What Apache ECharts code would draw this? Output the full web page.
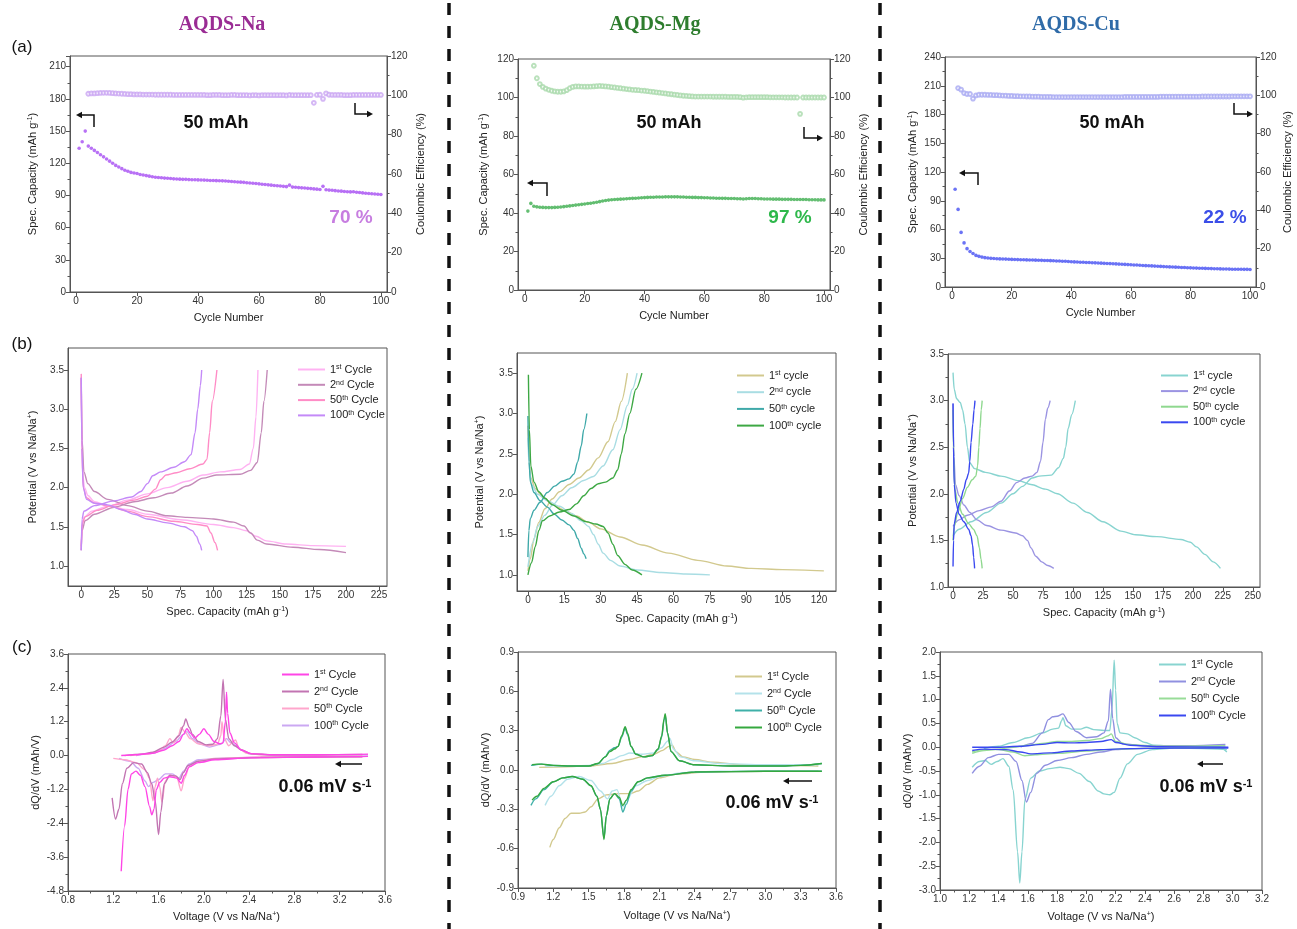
<!DOCTYPE html>
<html>
<head>
<meta charset="utf-8">
<script src="https://cdn.jsdelivr.net/npm/echarts@6/dist/echarts.min.js"></script>
<style>
html, body { margin: 0; padding: 0; background: #fff; }
#main { width: 1297px; height: 929px; }
</style>
</head>
<body>
<div id="main"></div>
<script>
// ---------- (a) cycling data ----------
const naCap = [134,140,150,136,134,132,130,128,126,124,
  122,120,118,116.5,115,113.5,112.5,111.5,111,110.5,
  109.5,109,108.5,108,107.5,107,106.8,106.5,106.2,106,
  105.8,105.5,105.3,105.2,105,105,104.8,104.7,104.6,104.5,
  104.4,104.3,104.2,104,103.9,103.8,103.7,103.6,103.5,103.2,
  103,102.8,102.6,102.4,102.2,101.9,101.6,101.4,101.1,100.8,
  100.5,100.2,99.9,99.6,99.3,99,98.8,98.5,98.2,99.6,
  97.8,97.6,97.3,97.1,96.9,96.6,96.4,96.1,95.9,95.6,
  98.5,95.3,95,94.8,94.5,94.2,94,93.7,93.5,93.3,
  93.4,93,92.7,92.4,92.1,91.8,91.6,91.3,91.1,90.9]
const naCEStart = 4
const naCE = [100.8,101.0,101.0,101.1,101.2,101.3,101.3,101.2,101.1,101.0,100.9,100.8,100.7,100.6,100.6,100.5,100.5,
  100.5,100.4,100.4,100.4,100.4,100.3,100.3,100.3,100.3,100.3,100.3,100.2,100.2,100.2,100.2,100.2,100.2,100.2,100.2,100.2,
  100.2,100.2,100.1,100.1,100.2,100.2,100.2,100.1,100.1,100.1,100.2,100.2,100.1,100.1,100.1,100.1,100.0,100.1,100.1,100.0,
  100.1,100.1,100.1,100.1,100.1,100.1,100.1,100.1,100.0,100.2,100.1,100.1,100.1,100.1,100.1,100.1,100.1,
  96.2,100.2,100.3,98.2,101.0,
  100.3,100.2,100.2,100.2,100.2,100.1,100.1,100.1,100.2,100.2,100.2,100.2,100.2,100.2,100.2,100.2,100.2,100.2]

const mgCap = [41,45,43.5,43.2,43,42.9,42.8,42.8,42.8,42.9,
  43,43.1,43.3,43.5,43.7,43.9,44.1,44.3,44.5,44.7,
  44.9,45.1,45.3,45.6,45.9,46.2,46.5,46.7,46.9,47,
  47.1,47.2,47.3,47.4,47.5,47.6,47.7,47.8,47.9,48,
  48.1,48.2,48.2,48.3,48.3,48.3,48.4,48.4,48.4,48.4,
  48.4,48.3,48.3,48.2,48.2,48.1,48.1,48,48,47.9,
  47.9,47.8,47.8,47.7,47.7,47.6,47.6,47.5,47.5,47.5,
  47.4,47.4,47.3,47.4,47.5,47.5,47.5,47.4,47.4,47.3,
  47.3,47.3,47.2,47.2,47.2,47.1,47.1,47.1,47.1,47,
  47,47,47,47,46.9,46.9,46.9,46.8,46.8,46.8]
const mgCEStart = 3
const mgCE = [116.5,110.0,107.0,105.5,104.6,104.0,103.5,103.2,103.0,103.0,103.2,103.8,104.8,105.5,105.8,105.8,105.7,105.6,
  105.6,105.7,105.8,105.9,106.0,105.9,105.8,105.6,105.4,105.2,105.0,104.8,104.6,104.4,104.2,104.0,103.9,103.8,103.6,103.5,
  103.3,103.1,102.9,102.7,102.5,102.3,102.1,101.9,101.7,101.5,101.3,101.1,100.9,100.8,100.7,100.6,100.5,100.5,100.5,100.5,
  100.5,100.5,100.4,100.4,100.4,100.4,100.4,100.3,100.3,100.3,100.3,100.2,99.9,100.1,100.2,100.2,100.2,100.2,100.2,100.2,
  100.2,100.1,100.1,100.1,100.1,100.1,100.0,100.0,100.0,100.0,100.0,91.5,100.0,100.0,100.0,100.0,100.0,100.0,100.0,100.0]

const cuCap = [102,81,57,46,40,37,35,33,32,31.2,
  30.6,30.2,29.9,29.7,29.5,29.3,29.2,29.1,29,28.8,
  28.7,28.6,28.5,28.4,28.3,28.2,28.1,28,27.9,27.8,
  27.7,27.6,27.5,27.4,27.2,27.1,26.9,26.8,26.6,26.4,
  26.2,26.1,25.9,25.8,25.6,25.5,25.3,25.2,25,24.9,
  24.7,24.6,24.4,24.3,24.1,23.9,23.8,23.6,23.4,23.2,
  23,22.9,22.7,22.5,22.3,22.2,22,21.8,21.7,21.5,
  21.3,21.2,21,20.9,20.7,20.6,20.4,20.3,20.1,20,
  19.9,19.7,19.6,19.5,19.4,19.3,19.2,19.1,19,18.9,
  18.8,18.8,18.7,18.6,18.6,18.5,18.5,18.4,18.4,18.3]
const cuCEStart = 2
const cuCE = [103.8,103.0,101.2,100.7,100.7,98.3,100.0,100.3,100.3,100.3,100.2,100.2,100.1,100.1,100.0,99.9,99.8,99.7,99.7,
  99.6,99.6,99.5,99.5,99.4,99.4,99.3,99.3,99.3,99.2,99.2,99.2,99.2,99.1,99.1,99.1,99.1,99.1,99.1,99.1,
  99.1,99.1,99.1,99.1,99.1,99.1,99.1,99.1,99.1,99.1,99.1,99.1,99.1,99.1,99.1,99.1,99.1,99.2,99.2,99.2,
  99.2,99.2,99.2,99.2,99.2,99.2,99.2,99.2,99.2,99.3,99.3,99.3,99.3,99.3,99.3,99.3,99.3,99.3,99.3,99.3,
  99.3,99.3,99.3,99.4,99.4,99.4,99.4,99.4,99.4,99.4,99.4,99.4,99.4,99.5,99.5,99.5,99.5,99.5,99.5,99.5]

// ---------- (b) charge / discharge curves [capacity, V] ----------
const naB1Dis = [[0,3.40],[0.5,2.6],[1.2,2.15],[2.5,2.0],[5,1.9],[10,1.82],[20,1.77],[35,1.72],[50,1.66],[75,1.59],[100,1.53],[115,1.49],[125,1.45],[132,1.38],[140,1.32],[155,1.28],[175,1.26],[200,1.25]]
const naB1Chg = [[0,1.2],[0.5,1.5],[2,1.62],[8,1.7],[20,1.76],[35,1.84],[50,1.92],[65,2.0],[80,2.08],[92,2.16],[105,2.2],[120,2.23],[127,2.3],[130,2.5],[132,2.9],[133.5,3.5]]
const naB2Dis = [[0,3.4],[0.7,2.6],[2,2.2],[5,2.05],[10,1.95],[20,1.85],[35,1.77],[50,1.7],[65,1.64],[80,1.62],[100,1.6],[115,1.56],[123,1.51],[128,1.42],[133,1.33],[140,1.28],[160,1.24],[180,1.21],[200,1.17]]
const naB2Chg = [[0,1.2],[0.6,1.45],[3,1.58],[10,1.66],[25,1.75],[40,1.82],[55,1.87],[68,1.93],[80,2.02],[92,2.12],[102,2.16],[120,2.17],[128,2.22],[133,2.32],[136,2.7],[138,3.1],[140.5,3.5]]
const naB50Dis = [[0,3.45],[0.5,2.5],[1.5,2.0],[4,1.87],[10,1.8],[22,1.76],[35,1.7],[50,1.63],[70,1.57],[88,1.53],[95,1.51],[98,1.42],[101,1.3],[103,1.2]]
const naB50Chg = [[0,1.25],[1,1.55],[3,1.63],[12,1.71],[25,1.78],[40,1.84],[50,1.89],[56,1.98],[60,2.1],[64,2.16],[72,2.19],[82,2.24],[92,2.3],[95,2.36],[97,2.7],[99,3.1],[102.5,3.5]]
const naB100Dis = [[0,3.4],[0.5,2.5],[1.5,2.0],[4,1.85],[10,1.8],[20,1.78],[30,1.72],[40,1.66],[50,1.6],[65,1.55],[78,1.5],[84,1.45],[87,1.38],[89.5,1.28],[91,1.2]]
const naB100Chg = [[0,1.2],[0.6,1.6],[2,1.7],[10,1.77],[25,1.83],[38,1.88],[45,1.95],[50,2.05],[54,2.15],[60,2.2],[70,2.26],[78,2.33],[83,2.42],[86,2.7],[88,3.0],[90,3.3],[91,3.5]]

const mgB1Dis = [[0,2.85],[0.5,2.4],[1.2,2.2],[3,2.07],[6,1.97],[10,1.88],[15,1.8],[20,1.73],[25,1.65],[30,1.57],[38,1.47],[47,1.37],[58,1.27],[70,1.18],[82,1.11],[92,1.08],[105,1.065],[122,1.05]]
const mgB1Chg = [[0,1.05],[1,1.2],[2.5,1.45],[4.5,1.65],[7,1.82],[10,1.94],[13,2.03],[17,2.12],[21,2.2],[25,2.3],[29,2.45],[33,2.65],[36,2.9],[38.5,3.15],[41,3.5]]
const mgB2Dis = [[0,2.7],[0.6,2.3],[1.5,2.12],[4,2.0],[8,1.92],[13,1.85],[18,1.76],[22,1.67],[25,1.6],[27,1.5],[29,1.38],[31,1.27],[34,1.18],[38,1.11],[45,1.06],[55,1.03],[65,1.01],[75,1.0]]
const mgB2Chg = [[0,1.1],[2,1.4],[4,1.6],[7,1.74],[10,1.86],[14,1.98],[18,2.08],[23,2.17],[27,2.22],[31,2.35],[35,2.55],[38,2.8],[41,3.1],[43,3.3],[45,3.5]]
const mgB50Dis = [[0,2.97],[0.5,2.4],[1,2.15],[2.5,2.02],[5,1.92],[8,1.84],[11,1.75],[14,1.68],[17,1.62],[19,1.55],[20.5,1.45],[22,1.33],[23,1.26],[24,1.2]]
const mgB50Chg = [[0,1.22],[0.4,1.55],[1,1.7],[2.5,1.8],[5,1.9],[8,2.02],[11,2.1],[14,2.16],[17,2.19],[19,2.25],[20.5,2.4],[22,2.6],[23,2.8],[24.3,3.0]]
const mgB100Dis = [[0.2,3.48],[0.6,2.8],[1.2,2.35],[2.5,2.15],[4.5,2.03],[7,1.95],[10,1.87],[14,1.8],[19,1.73],[24,1.66],[28,1.63],[31,1.6],[33,1.52],[35,1.38],[37,1.24],[40,1.13],[43,1.06],[47,1.0]]
const mgB100Chg = [[0,1.0],[1.5,1.15],[3,1.35],[4.5,1.55],[6,1.67],[9,1.73],[13,1.78],[17,1.81],[20,1.88],[23,1.98],[26,2.07],[29,2.13],[32,2.15],[35,2.2],[37,2.3],[38.5,2.5],[40,2.75],[42,3.0],[44.5,3.3],[47,3.5]]

const cuB1Dis = [[0,3.3],[1,3.12],[3,3.02],[6,2.98],[8,2.9],[10,2.75],[12,2.5],[14,2.33],[18,2.27],[27,2.23],[40,2.19],[55,2.14],[65,2.1],[77,2.05],[87,2.0],[100,1.9],[112,1.8],[125,1.7],[140,1.6],[152,1.56],[170,1.54],[190,1.51],[198,1.48],[203,1.43],[210,1.35],[217,1.27],[223,1.2]]
const cuB1Chg = [[0,1.55],[5,1.62],[15,1.7],[28,1.8],[40,1.9],[50,2.0],[58,2.08],[66,2.17],[72,2.19],[82,2.2],[88,2.28],[92,2.38],[94,2.5],[96,2.7],[99,2.85],[102,3.0]]
const cuB2Dis = [[0,2.97],[0.7,2.4],[2,2.1],[5,1.98],[9,1.88],[14,1.8],[20,1.72],[28,1.66],[40,1.61],[52,1.58],[58,1.55],[62,1.5],[65,1.42],[69,1.33],[74,1.27],[79,1.23],[84,1.2]]
const cuB2Chg = [[0,1.65],[5,1.72],[12,1.77],[22,1.82],[32,1.86],[40,1.92],[47,2.03],[53,2.12],[60,2.17],[66,2.19],[70,2.23],[73,2.35],[75,2.55],[77,2.8],[79,2.92],[81,3.0]]
const cuB50Dis = [[0,2.9],[0.5,2.4],[1.5,2.05],[4,1.9],[8,1.78],[13,1.68],[17,1.62],[20,1.55],[22,1.42],[23.3,1.3],[24.3,1.2]]
const cuB50Chg = [[0,1.5],[1,1.65],[4,1.8],[8,1.95],[12,2.07],[16,2.15],[19,2.19],[20.5,2.3],[21.5,2.5],[22.5,2.7],[23.5,2.9],[24.3,3.0]]
const cuB100Dis = [[0,2.97],[0.4,2.5],[1,2.1],[2.5,1.9],[5,1.78],[9,1.7],[13,1.62],[15,1.55],[16.3,1.45],[17.2,1.32],[18,1.2]]
const cuB100Chg = [[0,1.22],[0.4,1.5],[1,1.68],[3,1.8],[6,1.92],[9,2.05],[11,2.15],[13,2.22],[14,2.35],[15,2.55],[16.5,2.75],[17.5,2.9],[18.3,3.0]]

// ---------- (c) dQ/dV curves [V, dQ/dV] ----------
const naC1Up = [[1.27,0.0],[1.4,0.03],[1.55,0.08],[1.65,0.2],[1.72,0.35],[1.78,0.5],[1.82,0.75],[1.85,0.95],[1.88,0.8],[1.92,0.62],[1.96,0.75],[2.0,0.95],[2.04,0.75],[2.09,0.5],[2.14,0.42],[2.17,0.45],[2.19,1.2],[2.2,2.25],[2.21,1.5],[2.23,0.8],[2.27,0.45],[2.33,0.2],[2.42,0.07],[2.6,0.03],[3.0,0.03],[3.45,0.05]]
const naC1Dn = [[1.27,-4.1],[1.3,-2.5],[1.33,-1.2],[1.36,-0.65],[1.4,-0.55],[1.44,-0.7],[1.48,-1.1],[1.52,-1.8],[1.54,-2.1],[1.56,-1.9],[1.58,-1.2],[1.61,-0.95],[1.65,-0.8],[1.7,-0.75],[1.76,-0.8],[1.8,-0.98],[1.83,-0.7],[1.87,-0.4],[1.95,-0.25],[2.1,-0.15],[2.4,-0.08],[3.0,-0.05],[3.45,-0.03]]
const naC2Up = [[1.3,0.0],[1.45,0.05],[1.55,0.12],[1.65,0.3],[1.72,0.48],[1.78,0.7],[1.82,1.05],[1.84,1.3],[1.87,1.0],[1.9,0.75],[1.95,0.5],[2.02,0.38],[2.08,0.4],[2.12,0.6],[2.15,1.4],[2.17,2.7],[2.19,1.3],[2.22,0.6],[2.27,0.35],[2.33,0.2],[2.42,0.06],[2.6,0.03],[3.0,0.03],[3.4,0.04]]
const naC2Dn = [[1.19,-1.5],[1.22,-2.25],[1.25,-1.9],[1.28,-1.0],[1.32,-0.45],[1.38,-0.25],[1.45,-0.3],[1.5,-0.6],[1.54,-1.0],[1.57,-1.6],[1.6,-2.8],[1.62,-2.0],[1.65,-1.0],[1.7,-0.7],[1.75,-0.72],[1.79,-0.85],[1.82,-0.6],[1.86,-0.35],[1.95,-0.2],[2.1,-0.12],[2.5,-0.07],[3.0,-0.05],[3.4,-0.04]]
const naC50Up = [[1.35,0.0],[1.5,0.05],[1.6,0.15],[1.66,0.35],[1.7,0.6],[1.73,0.45],[1.77,0.65],[1.8,1.0],[1.83,0.85],[1.88,0.6],[1.95,0.42],[2.05,0.35],[2.12,0.4],[2.15,0.7],[2.16,1.2],[2.18,0.6],[2.22,0.35],[2.26,0.5],[2.28,0.55],[2.31,0.25],[2.38,0.08],[2.5,0.03],[3.0,0.02],[3.4,0.03]]
const naC50Dn = [[1.2,-0.1],[1.3,-0.15],[1.4,-0.25],[1.48,-0.5],[1.52,-0.8],[1.55,-1.6],[1.57,-1.1],[1.59,-0.8],[1.61,-1.1],[1.63,-1.65],[1.66,-0.9],[1.7,-0.7],[1.76,-0.75],[1.8,-1.25],[1.83,-0.8],[1.87,-0.4],[1.95,-0.2],[2.1,-0.1],[2.5,-0.05],[3.4,-0.04]]
const naC100Up = [[1.4,0.0],[1.55,0.08],[1.65,0.25],[1.75,0.5],[1.82,0.75],[1.85,0.85],[1.9,0.6],[1.97,0.4],[2.05,0.3],[2.15,0.4],[2.2,0.6],[2.24,0.45],[2.29,0.35],[2.33,0.2],[2.4,0.06],[2.6,0.02],[3.0,0.02],[3.45,0.03]]
const naC100Dn = [[1.25,-0.1],[1.35,-0.2],[1.42,-0.45],[1.48,-0.9],[1.51,-1.1],[1.55,-0.95],[1.6,-0.85],[1.66,-0.65],[1.72,-0.65],[1.78,-0.8],[1.82,-0.55],[1.87,-0.3],[1.95,-0.15],[2.2,-0.08],[2.6,-0.05],[3.45,-0.03]]

const mgC1Up = [[1.08,0.02],[1.3,0.025],[1.5,0.03],[1.7,0.05],[1.85,0.08],[1.95,0.1],[2.05,0.12],[2.13,0.15],[2.18,0.18],[2.21,0.19],[2.24,0.14],[2.3,0.1],[2.4,0.08],[2.55,0.06],[2.8,0.04],[3.1,0.035],[3.45,0.03]]
const mgC1Dn = [[1.17,-0.59],[1.2,-0.53],[1.25,-0.44],[1.3,-0.37],[1.35,-0.33],[1.42,-0.33],[1.47,-0.32],[1.52,-0.28],[1.58,-0.22],[1.65,-0.19],[1.75,-0.18],[1.85,-0.18],[1.92,-0.16],[2.0,-0.11],[2.1,-0.06],[2.25,-0.03],[2.5,-0.015],[3.0,-0.01],[3.45,-0.01]]
const mgC2Up = [[1.13,0.03],[1.3,0.03],[1.5,0.035],[1.62,0.05],[1.7,0.08],[1.78,0.11],[1.85,0.13],[1.95,0.12],[2.05,0.13],[2.12,0.17],[2.17,0.22],[2.19,0.24],[2.22,0.16],[2.28,0.1],[2.4,0.07],[2.6,0.05],[3.0,0.04],[3.45,0.04]]
const mgC2Dn = [[1.13,-0.27],[1.18,-0.2],[1.25,-0.12],[1.32,-0.07],[1.42,-0.05],[1.52,-0.08],[1.6,-0.16],[1.66,-0.22],[1.7,-0.16],[1.74,-0.15],[1.79,-0.28],[1.83,-0.22],[1.9,-0.12],[2.0,-0.08],[2.1,-0.05],[2.3,-0.02],[2.6,-0.01],[3.45,-0.01]]
const mgC50Up = [[1.01,0.035],[1.05,0.04],[1.1,0.045],[1.2,0.035],[1.35,0.03],[1.5,0.03],[1.58,0.05],[1.64,0.1],[1.68,0.15],[1.72,0.17],[1.75,0.18],[1.78,0.25],[1.81,0.32],[1.83,0.27],[1.86,0.18],[1.9,0.12],[1.97,0.1],[2.04,0.11],[2.09,0.16],[2.12,0.25],[2.14,0.38],[2.15,0.42],[2.17,0.28],[2.2,0.14],[2.27,0.07],[2.4,0.04],[2.7,0.03],[3.1,0.03],[3.3,0.035],[3.48,0.05]]
const mgC50Dn = [[1.01,-0.27],[1.05,-0.22],[1.12,-0.15],[1.2,-0.09],[1.28,-0.06],[1.36,-0.05],[1.45,-0.07],[1.52,-0.12],[1.57,-0.2],[1.6,-0.3],[1.63,-0.52],[1.65,-0.35],[1.68,-0.22],[1.72,-0.18],[1.76,-0.22],[1.79,-0.32],[1.82,-0.26],[1.86,-0.16],[1.92,-0.09],[2.0,-0.06],[2.15,-0.04],[2.4,-0.015],[3.0,-0.01],[3.48,-0.01]]
const mgC100Up = [[1.02,0.04],[1.06,0.045],[1.1,0.045],[1.2,0.035],[1.35,0.03],[1.5,0.03],[1.58,0.05],[1.64,0.1],[1.68,0.14],[1.72,0.16],[1.75,0.18],[1.78,0.26],[1.81,0.33],[1.83,0.28],[1.86,0.18],[1.9,0.12],[1.97,0.1],[2.04,0.11],[2.09,0.16],[2.12,0.26],[2.14,0.39],[2.15,0.43],[2.17,0.28],[2.2,0.14],[2.27,0.07],[2.4,0.04],[2.7,0.03],[3.1,0.03],[3.3,0.035],[3.48,0.05]]
const mgC100Dn = [[1.02,-0.23],[1.06,-0.2],[1.12,-0.14],[1.2,-0.09],[1.28,-0.06],[1.36,-0.05],[1.45,-0.07],[1.52,-0.12],[1.57,-0.2],[1.6,-0.3],[1.63,-0.53],[1.65,-0.35],[1.68,-0.22],[1.72,-0.18],[1.76,-0.21],[1.79,-0.27],[1.82,-0.23],[1.86,-0.15],[1.92,-0.09],[2.0,-0.06],[2.15,-0.04],[2.4,-0.015],[3.0,-0.01],[3.48,-0.01]]

const cuC1Up = [[1.3,-0.03],[1.4,0.02],[1.5,0.1],[1.6,0.2],[1.7,0.3],[1.77,0.38],[1.81,0.4],[1.83,0.55],[1.84,0.62],[1.86,0.45],[1.9,0.38],[1.96,0.38],[2.0,0.42],[2.05,0.37],[2.12,0.35],[2.16,0.35],[2.175,0.8],[2.19,1.83],[2.2,1.2],[2.21,0.5],[2.23,0.3],[2.28,0.28],[2.33,0.2],[2.4,0.1],[2.46,0.04],[2.6,0.02],[2.9,0.02],[2.96,-0.1]]
const cuC1Dn = [[1.22,-0.42],[1.27,-0.3],[1.31,-0.28],[1.35,-0.36],[1.39,-0.3],[1.43,-0.24],[1.47,-0.4],[1.5,-0.9],[1.53,-2.2],[1.545,-2.85],[1.56,-2.2],[1.58,-1.1],[1.62,-0.65],[1.68,-0.5],[1.75,-0.45],[1.82,-0.42],[1.88,-0.45],[1.95,-0.55],[2.02,-0.72],[2.08,-0.92],[2.12,-0.98],[2.16,-1.0],[2.19,-0.95],[2.23,-0.65],[2.28,-0.35],[2.35,-0.15],[2.45,-0.05],[2.6,-0.02],[2.96,-0.05]]
const cuC2Up = [[1.55,0.0],[1.63,0.08],[1.7,0.3],[1.74,0.58],[1.77,0.64],[1.8,0.65],[1.84,0.7],[1.88,0.52],[1.93,0.33],[2.0,0.2],[2.07,0.22],[2.12,0.3],[2.15,0.55],[2.165,1.22],[2.18,0.6],[2.2,0.2],[2.25,0.07],[2.4,0.03],[2.7,0.03],[2.95,0.06]]
const cuC2Dn = [[1.22,-0.55],[1.27,-0.4],[1.33,-0.22],[1.4,-0.15],[1.47,-0.15],[1.52,-0.3],[1.56,-0.7],[1.59,-1.15],[1.62,-0.95],[1.66,-0.55],[1.72,-0.38],[1.8,-0.28],[1.9,-0.22],[2.0,-0.15],[2.1,-0.1],[2.2,-0.05],[2.4,-0.02],[2.95,0.0]]
const cuC50Up = [[1.22,-0.13],[1.3,-0.07],[1.4,-0.04],[1.5,0.0],[1.6,0.04],[1.7,0.08],[1.8,0.12],[1.9,0.12],[2.0,0.14],[2.1,0.18],[2.15,0.24],[2.17,0.28],[2.2,0.12],[2.3,0.05],[2.5,0.02],[2.95,0.03]]
const cuC50Dn = [[1.22,-0.1],[1.3,-0.05],[1.4,-0.05],[1.5,-0.1],[1.58,-0.18],[1.65,-0.16],[1.8,-0.13],[2.0,-0.08],[2.2,-0.04],[2.5,-0.02],[2.95,-0.01]]
const cuC100Up = [[1.22,0.0],[1.4,0.0],[1.55,0.02],[1.7,0.06],[1.8,0.1],[1.9,0.09],[2.0,0.1],[2.1,0.12],[2.17,0.16],[2.2,0.1],[2.3,0.04],[2.5,0.01],[2.97,0.0]]
const cuC100Dn = [[1.22,-0.07],[1.3,-0.04],[1.45,-0.05],[1.55,-0.1],[1.62,-0.14],[1.75,-0.12],[1.9,-0.08],[2.1,-0.05],[2.3,-0.03],[2.6,-0.02],[2.97,-0.02]]

// ---------- tick labels ----------
const cycleTicks = [0, 20, 40, 60, 80, 100]
const bNaXTicks = [0, 25, 50, 75, 100, 125, 150, 175, 200, 225]
const bMgXTicks = [0, 15, 30, 45, 60, 75, 90, 105, 120]
const bCuXTicks = [0, 25, 50, 75, 100, 125, 150, 175, 200, 225, 250]
const potTicks = [1.0, 1.5, 2.0, 2.5, 3.0, 3.5]

const SANS = '"Liberation Sans", Arial, sans-serif'
const AX = '#555'
const SUP = {fontSize: 7, verticalAlign: 'top', padding: [0, 0, 4, 0], fontFamily: SANS, color: '#222'}

const grids = [], xAxes = [], yAxes = [], series = [], legends = [], graphics = []

const addGrid = function (left, top, width, height) {
  grids.push({left, top, width, height, show: true, borderColor: AX, borderWidth: 1, containLabel: false})
  return grids.length - 1
}

const makeAxis = function (gi, s) {
  const ax = {
    type: 'value', gridIndex: gi, min: s.min, max: s.max, position: s.pos,
    axisLine: {show: true, onZero: false, lineStyle: {color: AX, width: 1}},
    axisTick: {show: true, inside: false, length: 4, lineStyle: {color: AX}},
    minorTick: {show: !!s.interval, splitNumber: 2, length: 2.5, lineStyle: {color: AX}},
    axisLabel: {fontSize: 10, color: '#333', margin: 4, fontFamily: SANS, showMaxLabel: s.hideMax ? false : null},
    splitLine: {show: false},
    name: s.name, nameLocation: 'middle', nameGap: s.gap,
    nameTextStyle: {fontSize: 11, color: '#222', fontFamily: SANS, rich: {sup: SUP}},
  }
  if (s.fmt) ax.axisLabel.formatter = s.fmt
  if (s.interval) ax.interval = s.interval
  if (s.ticks) {
    ax.axisTick.customValues = s.ticks
    ax.axisLabel.customValues = s.ticks
  }
  return ax
}
const addX = function (gi, s) { xAxes.push(makeAxis(gi, Object.assign({pos: 'bottom'}, s))); return xAxes.length - 1 }
const addY = function (gi, s) { yAxes.push(makeAxis(gi, Object.assign({pos: 'left'}, s))); return yAxes.length - 1 }
const f1 = v => v.toFixed(1)

const LEG = {}
const line = function (name, data, color, xi, yi) {
  series.push({
    type: 'line', name, data, xAxisIndex: xi, yAxisIndex: yi, symbol: 'none',
    smooth: 0.3, smoothMonotone: 'x', clip: false,
    lineStyle: {color, width: 1.4}, itemStyle: {color}, z: 2,
  })
}
const addLegend = function (names, left, top, gap) {
  legends.push({
    orient: 'vertical', left, top, data: names, padding: 0, itemGap: gap,
    icon: 'rect', itemWidth: 27, itemHeight: 2, selectedMode: false,
    formatter: n => LEG[n],
    textStyle: {fontSize: 11, color: '#222', fontFamily: SANS, rich: {sup: SUP}},
  })
}
const cyclesOf = (arr, start) => arr.map((v, i) => [i + start, v])

const text = function (x, y, str, o) {
  graphics.push({
    type: 'text', x, y, z: 20,
    style: Object.assign({text: str, align: 'center', verticalAlign: 'middle', fontFamily: SANS, fill: '#111'}, o),
  })
}
const arrow = function (points) {
  const n = points.length
  const [x1, y1] = points[n - 2], [x2, y2] = points[n - 1]
  const L = Math.hypot(x2 - x1, y2 - y1), ux = (x2 - x1) / L, uy = (y2 - y1) / L
  const bx = x2 - ux * 6, by = y2 - uy * 6
  graphics.push({type: 'polyline', z: 20, shape: {points: points.slice(0, n - 1).concat([[bx, by]])}, style: {stroke: '#111', lineWidth: 1.5, fill: null}})
  graphics.push({type: 'polygon', z: 20, shape: {points: [[x2, y2], [bx - uy * 3.2, by + ux * 3.2], [bx + uy * 3.2, by - ux * 3.2]]}, style: {fill: '#111'}})
}

// ---------- row (a) ----------
const capName = 'Spec. Capacity (mAh g{sup|-1})'
const ceName = 'Coulombic Efficiency (%)'
const aPanels = [
  {box: [70, 56, 317, 236], x: [-2, 102], cap: naCap, ce: naCE, ceStart: naCEStart, ymax: 220, yint: 30, hideMax: true, capColor: '#A64DF2', ceColor: '#CBA6F2', gap: 32, rgap: 28},
  {box: [518, 59, 312, 231], x: [-2.3, 102], cap: mgCap, ce: mgCE, ceStart: mgCEStart, ymax: 120, yint: 20, capColor: '#3DAE4F', ceColor: '#A9D9AB', gap: 29, rgap: 28},
  {box: [945, 57, 311, 230], x: [-2.4, 102], cap: cuCap, ce: cuCE, ceStart: cuCEStart, ymax: 240, yint: 30, capColor: '#4650F2', ceColor: '#A9AAF2', gap: 27, rgap: 26},
]
aPanels.forEach(p => {
  const gi = addGrid(...p.box)
  const xi = addX(gi, {min: p.x[0], max: p.x[1], ticks: cycleTicks, name: 'Cycle Number', gap: 20})
  const yl = addY(gi, {min: 0, max: p.ymax, interval: p.yint, hideMax: p.hideMax, name: capName, gap: p.gap})
  const yr = addY(gi, {min: 0, max: 120, interval: 20, pos: 'right', name: ceName, gap: p.rgap})
  series.push({type: 'scatter', data: cyclesOf(p.cap, 1), xAxisIndex: xi, yAxisIndex: yl, symbol: 'circle', symbolSize: 3.6, itemStyle: {color: p.capColor}, z: 3})
  series.push({type: 'scatter', data: cyclesOf(p.ce, p.ceStart), xAxisIndex: xi, yAxisIndex: yr, symbol: 'emptyCircle', symbolSize: 3.8, itemStyle: {color: p.ceColor, borderWidth: 0.8}, z: 3})
})

// ---------- row (b) ----------
const potName = 'Potential (V vs Na/Na{sup|+})'
const specName = 'Spec. Capacity (mAh g{sup|-1})'
let gi = addGrid(68, 348, 319, 238)
let xi = addX(gi, {min: -10, max: 231, ticks: bNaXTicks, name: specName, gap: 20})
let yi = addY(gi, {min: 0.745, max: 3.78, ticks: potTicks, fmt: f1, name: potName, gap: 30})
Object.assign(LEG, {bNa1: '1{sup|st} Cycle', bNa2: '2{sup|nd} Cycle', bNa50: '50{sup|th} Cycle', bNa100: '100{sup|th} Cycle'})
line('bNa1', naB1Dis, '#FFB2F2', xi, yi); line('bNa1', naB1Chg, '#FFB2F2', xi, yi)
line('bNa2', naB2Dis, '#C48AB8', xi, yi); line('bNa2', naB2Chg, '#C48AB8', xi, yi)
line('bNa50', naB50Dis, '#FF8CC6', xi, yi); line('bNa50', naB50Chg, '#FF8CC6', xi, yi)
line('bNa100', naB100Dis, '#C48AF8', xi, yi); line('bNa100', naB100Chg, '#C48AF8', xi, yi)
addLegend(['bNa1', 'bNa2', 'bNa50', 'bNa100'], 298, 364, 4.3)

gi = addGrid(517, 353, 319, 238)
xi = addX(gi, {min: -4.5, max: 127, ticks: bMgXTicks, name: specName, gap: 22})
yi = addY(gi, {min: 0.8, max: 3.75, ticks: potTicks, fmt: f1, name: potName, gap: 32})
Object.assign(LEG, {bMg1: '1{sup|st} cycle', bMg2: '2{sup|nd} cycle', bMg50: '50{sup|th} cycle', bMg100: '100{sup|th} cycle'})
line('bMg1', mgB1Dis, '#D2C98E', xi, yi); line('bMg1', mgB1Chg, '#D2C98E', xi, yi)
line('bMg2', mgB2Dis, '#A9DDE3', xi, yi); line('bMg2', mgB2Chg, '#A9DDE3', xi, yi)
line('bMg50', mgB50Dis, '#3FA9A9', xi, yi); line('bMg50', mgB50Chg, '#3FA9A9', xi, yi)
line('bMg100', mgB100Dis, '#3DA844', xi, yi); line('bMg100', mgB100Chg, '#3DA844', xi, yi)
addLegend(['bMg1', 'bMg2', 'bMg50', 'bMg100'], 737, 370, 5.7)

gi = addGrid(948, 354, 312, 233)
xi = addX(gi, {min: -4.2, max: 256, ticks: bCuXTicks, name: specName, gap: 20})
yi = addY(gi, {min: 1.0, max: 3.5, interval: 0.5, fmt: f1, name: potName, gap: 30})
Object.assign(LEG, {bCu1: '1{sup|st} cycle', bCu2: '2{sup|nd} cycle', bCu50: '50{sup|th} cycle', bCu100: '100{sup|th} cycle'})
line('bCu1', cuB1Dis, '#88D4D0', xi, yi); line('bCu1', cuB1Chg, '#88D4D0', xi, yi)
line('bCu2', cuB2Dis, '#9B94E2', xi, yi); line('bCu2', cuB2Chg, '#9B94E2', xi, yi)
line('bCu50', cuB50Dis, '#8FD88F', xi, yi); line('bCu50', cuB50Chg, '#8FD88F', xi, yi)
line('bCu100', cuB100Dis, '#3A48F0', xi, yi); line('bCu100', cuB100Chg, '#3A48F0', xi, yi)
addLegend(['bCu1', 'bCu2', 'bCu50', 'bCu100'], 1161, 370, 4.6)

// ---------- row (c) ----------
const dqName = 'dQ/dV (mAh/V)'
const voltName = 'Voltage (V vs Na/Na{sup|+})'
gi = addGrid(68, 654, 317, 237)
xi = addX(gi, {min: 0.8, max: 3.6, interval: 0.4, fmt: f1, name: voltName, gap: 20})
yi = addY(gi, {min: -4.8, max: 3.6, interval: 1.2, fmt: f1, name: dqName, gap: 27})
Object.assign(LEG, {cNa1: '1{sup|st} Cycle', cNa2: '2{sup|nd} Cycle', cNa50: '50{sup|th} Cycle', cNa100: '100{sup|th} Cycle'})
line('cNa100', naC100Up, '#CBA8F2', xi, yi); line('cNa100', naC100Dn, '#CBA8F2', xi, yi)
line('cNa50', naC50Up, '#FFA6CC', xi, yi); line('cNa50', naC50Dn, '#FFA6CC', xi, yi)
line('cNa2', naC2Up, '#C274B2', xi, yi); line('cNa2', naC2Dn, '#C274B2', xi, yi)
line('cNa1', naC1Up, '#FF45E6', xi, yi); line('cNa1', naC1Dn, '#FF45E6', xi, yi)
addLegend(['cNa1', 'cNa2', 'cNa50', 'cNa100'], 282, 669, 6)

gi = addGrid(518, 652, 318, 236)
xi = addX(gi, {min: 0.9, max: 3.6, interval: 0.3, fmt: f1, name: voltName, gap: 22})
yi = addY(gi, {min: -0.9, max: 0.9, interval: 0.3, fmt: f1, name: dqName, gap: 27})
Object.assign(LEG, {cMg1: '1{sup|st} Cycle', cMg2: '2{sup|nd} Cycle', cMg50: '50{sup|th} Cycle', cMg100: '100{sup|th} Cycle'})
line('cMg1', mgC1Up, '#D2C98E', xi, yi); line('cMg1', mgC1Dn, '#D2C98E', xi, yi)
line('cMg2', mgC2Up, '#B4E2EA', xi, yi); line('cMg2', mgC2Dn, '#B4E2EA', xi, yi)
line('cMg50', mgC50Up, '#3FB0A8', xi, yi); line('cMg50', mgC50Dn, '#3FB0A8', xi, yi)
line('cMg100', mgC100Up, '#35A83F', xi, yi); line('cMg100', mgC100Dn, '#35A83F', xi, yi)
addLegend(['cMg1', 'cMg2', 'cMg50', 'cMg100'], 735, 671, 6)

gi = addGrid(940, 652, 322, 238)
xi = addX(gi, {min: 1.0, max: 3.2, interval: 0.2, fmt: f1, name: voltName, gap: 21})
yi = addY(gi, {min: -3.0, max: 2.0, interval: 0.5, fmt: f1, name: dqName, gap: 27})
Object.assign(LEG, {cCu1: '1{sup|st} Cycle', cCu2: '2{sup|nd} Cycle', cCu50: '50{sup|th} Cycle', cCu100: '100{sup|th} Cycle'})
line('cCu1', cuC1Up, '#88D4D0', xi, yi); line('cCu1', cuC1Dn, '#88D4D0', xi, yi)
line('cCu2', cuC2Up, '#9090E0', xi, yi); line('cCu2', cuC2Dn, '#9090E0', xi, yi)
line('cCu50', cuC50Up, '#98DC98', xi, yi); line('cCu50', cuC50Dn, '#98DC98', xi, yi)
line('cCu100', cuC100Up, '#3A48F0', xi, yi); line('cCu100', cuC100Dn, '#3A48F0', xi, yi)
addLegend(['cCu1', 'cCu2', 'cCu50', 'cCu100'], 1159, 659, 6)

// ---------- decorations ----------
const SERIF = '"Liberation Serif", "Times New Roman", serif'
text(222, 25, 'AQDS-Na', {fontFamily: SERIF, fontWeight: 'bold', fontSize: 20, fill: '#9A2C94'})
text(655, 25, 'AQDS-Mg', {fontFamily: SERIF, fontWeight: 'bold', fontSize: 20, fill: '#2E7D2E'})
text(1076, 25, 'AQDS-Cu', {fontFamily: SERIF, fontWeight: 'bold', fontSize: 20, fill: '#2F6BA8'})
text(22, 47, '(a)', {fontSize: 17, fill: '#111'})
text(22, 344, '(b)', {fontSize: 17, fill: '#111'})
text(22, 647, '(c)', {fontSize: 17, fill: '#111'})

text(216, 123, '50 mAh', {fontSize: 18, fontWeight: 'bold'})
text(669, 123, '50 mAh', {fontSize: 18, fontWeight: 'bold'})
text(1112, 123, '50 mAh', {fontSize: 18, fontWeight: 'bold'})
text(351, 218, '70 %', {fontSize: 19, fontWeight: 'bold', fill: '#C77DE0'})
text(790, 218, '97 %', {fontSize: 19, fontWeight: 'bold', fill: '#2EB84B'})
text(1225, 218, '22 %', {fontSize: 19, fontWeight: 'bold', fill: '#3B4EE8'})

const rateRich = {sup: {fontSize: 11, fontWeight: 'bold', verticalAlign: 'top', fontFamily: SANS, fill: '#111', padding: [0, 0, 7, 0]}}
text(325, 787, '0.06 mV s{sup|-1}', {fontSize: 18, fontWeight: 'bold', rich: rateRich})
text(772, 803, '0.06 mV s{sup|-1}', {fontSize: 18, fontWeight: 'bold', rich: rateRich})
text(1206, 787, '0.06 mV s{sup|-1}', {fontSize: 18, fontWeight: 'bold', rich: rateRich})

arrow([[94, 127], [94, 115], [76, 115]])
arrow([[355, 103], [355, 114], [373, 114]])
arrow([[547, 196], [547, 183], [527, 183]])
arrow([[804, 127], [804, 138], [823, 138]])
arrow([[978, 185], [978, 173], [959, 173]])
arrow([[1234, 103], [1234, 114], [1253, 114]])
arrow([[362, 764], [335, 764]])
arrow([[812, 781], [783, 781]])
arrow([[1223, 764], [1197, 764]])

;[449, 880].forEach(x => graphics.push({type: 'line', z: 20, shape: {x1: x, y1: 3, x2: x, y2: 929}, style: {stroke: '#111', lineWidth: 3.5, lineDash: [12, 11]}}))

const chart = echarts.init(document.getElementById('main'), null, {renderer: 'canvas'})
chart.setOption({
  animation: false,
  backgroundColor: '#fff',
  grid: grids,
  xAxis: xAxes,
  yAxis: yAxes,
  legend: legends,
  series: series,
  graphic: graphics,
})
</script>
</body>
</html>
